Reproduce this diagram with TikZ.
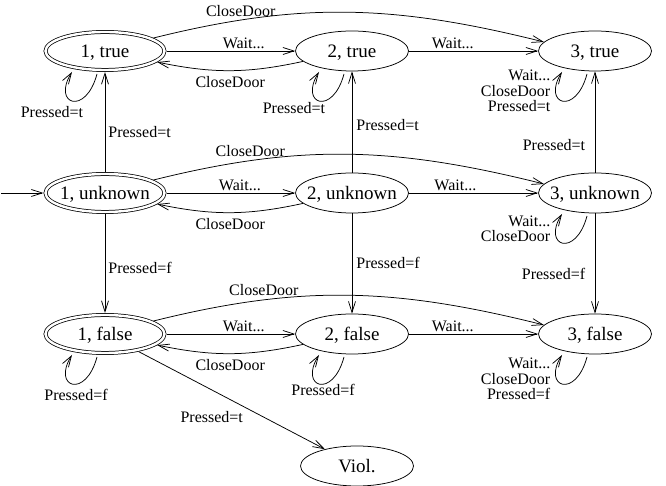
\documentclass[tikz,border=0pt]{standalone}
\usepackage{fontspec}
\setmainfont{Liberation Serif}
\usetikzlibrary{shapes.geometric,arrows.meta}
\newcommand\ztext[1]{\makebox[0pt]{#1}}
\newcommand\lpdraw[1]{\draw[arr] ([shift={(-8,-23)}]#1.center) .. controls +(-105:44) and +(-122:38) .. ([shift={(-33,-21)}]#1.center);}
\begin{document}
\begin{tikzpicture}[x=1pt,y=1pt,
  st/.style={ellipse,draw,line width=0.75pt,minimum width=113pt,minimum height=40pt,inner sep=0pt,outer sep=0.35pt,font=\fontsize{19}{19}\selectfont,text height=12.5pt,text depth=0pt},
  acc/.style={st,double,double distance=2.4pt,minimum width=119pt,minimum height=38pt,outer sep=2pt},
  arr/.style={-{Straight Barb[length=11pt,width=7pt]},line width=0.75pt},
  lab/.style={font=\fontsize{16}{15.5}\selectfont,inner sep=1.5pt},
]
\useasboundingbox (0,0) rectangle (666,486);
% states
\node[acc] (t1) at (105,435) {\ztext{1, true}};
\node[st]  (t2) at (352,435) {\ztext{2, true}};
\node[st]  (t3) at (595,435) {\ztext{3, true}};
\node[acc] (u1) at (105,293) {\ztext{1, unknown}};
\node[st]  (u2) at (352,293) {\ztext{2, unknown}};
\node[st]  (u3) at (595,293) {\ztext{3, unknown}};
\node[acc] (f1) at (105,152) {\ztext{1, false}};
\node[st]  (f2) at (352,152) {\ztext{2, false}};
\node[st]  (f3) at (595,152) {\ztext{3, false}};
\node[st]  (v)  at (357,20)  {\ztext{Viol.}};
% initial
\coordinate (init) at (1,293);
\draw[arr] (init) -- (u1);
% true row
\draw[arr] (t1) -- node[lab,above,pos=0.6]{Wait...} (t2);
\draw[arr] (t2) -- node[lab,above,pos=0.34]{Wait...} (t3);
\draw[arr] (t2) to[bend left=12] node[lab,below=4pt,pos=0.5]{CloseDoor} (t1);
\draw[arr] (t1.15) to[out=14,in=166] node[lab,above=2pt,pos=0.21]{CloseDoor} (t3.170);
% unknown row
\draw[arr] (u1) -- node[lab,above,pos=0.57]{Wait...} (u2);
\draw[arr] (u2) -- node[lab,above,pos=0.36]{Wait...} (u3);
\draw[arr] (u2) to[bend left=12] node[lab,below=4pt,pos=0.5]{CloseDoor} (u1);
\draw[arr] (u1.15) to[out=14,in=166] node[lab,above=2pt,pos=0.235]{CloseDoor} (u3.170);
% false row
\draw[arr] (f1) -- node[lab,above,pos=0.6]{Wait...} (f2);
\draw[arr] (f2) -- node[lab,above,pos=0.34]{Wait...} (f3);
\draw[arr] (f2) to[bend left=12] node[lab,below=4pt,pos=0.5]{CloseDoor} (f1);
\draw[arr] (f1.15) to[out=14,in=166] node[lab,above=2pt,pos=0.27]{CloseDoor} (f3.170);
% vertical
\draw[arr] (u1) -- node[lab,right=1.5pt,pos=0.4]{Pressed=t} (t1);
\draw[arr] (u2) -- node[lab,right=2.5pt,pos=0.47]{Pressed=t} (t2);
\draw[arr] (u3) -- node[lab,left=8pt,pos=0.27]{Pressed=t} (t3);
\draw[arr] (u1) -- node[lab,right=1.5pt,pos=0.54]{Pressed=f} (f1);
\draw[arr] (u2) -- node[lab,right=2.5pt,pos=0.49]{Pressed=f} (f2);
\draw[arr] (u3) -- node[lab,left=8pt,pos=0.6]{Pressed=f} (f3);
% violation
\draw[arr] (f1) -- node[lab,anchor=north east,pos=0.57,yshift=-2pt]{Pressed=t} (v);
% self loops
\lpdraw{t1}
\lpdraw{t2}
\lpdraw{t3}
\lpdraw{u3}
\lpdraw{f1}
\lpdraw{f2}
\lpdraw{f3}
\node[lab] (lt1) at (52,374) {Pressed=t};
\node[lab] (lt2) at (294,378) {Pressed=t};
\node[lab] (lf1) at (76,91) {Pressed=f};
\node[lab] (lf2) at (323,96) {Pressed=f};
\node[lab,align=right,anchor=east] (lt3) at (552,395) {Wait...\\CloseDoor\\Pressed=t};
\node[lab,align=right,anchor=east] (lu3) at (552,257) {Wait...\\CloseDoor};
\node[lab,align=right,anchor=east] (lf3) at (552,107) {Wait...\\CloseDoor\\Pressed=f};
\end{tikzpicture}
\end{document}
